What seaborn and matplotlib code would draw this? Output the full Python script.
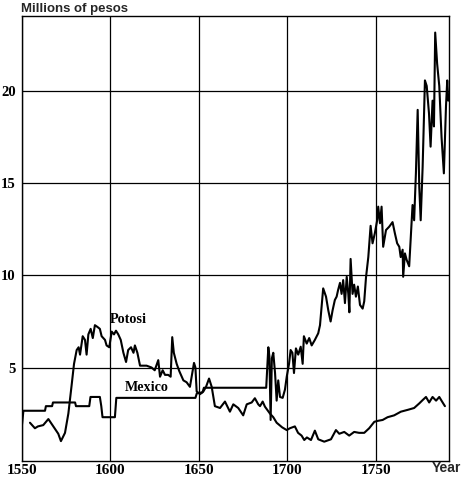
import matplotlib
matplotlib.use("Agg")
import matplotlib.pyplot as plt
import seaborn as sns
import pandas as pd

# ---- data ----
potosi_years = [1554.5, 1557.3, 1559, 1562, 1564.9, 1567.7, 1570.5, 1572, 1574.3, 1576.2,
                1578, 1579.4, 1580.9, 1582, 1582.8, 1584.3, 1585.6, 1586.5, 1587.5, 1588.8,
                1590, 1591.2, 1592.7, 1594, 1595, 1596.9, 1597.8, 1599.3, 1600.7, 1602,
                1603.1, 1604.4, 1605.8, 1607.3, 1608.8, 1610, 1611.6, 1613, 1613.8, 1615.2,
                1616.7, 1620.4, 1623.2, 1625, 1627, 1628, 1629.5, 1630.8, 1632.6, 1634,
                1634.9, 1635.8, 1637.4, 1638.9, 1641.2, 1643, 1644.9, 1646.4, 1647.2, 1648,
                1648.7, 1650.6, 1652.5, 1654, 1655.7, 1657.2, 1659, 1661.9, 1664.7, 1667.5,
                1669.4, 1672.2, 1675, 1677, 1679.8, 1681.6, 1683.5, 1684.5, 1686, 1687.3,
                1690.1, 1692, 1693.9, 1697, 1699.6, 1701.4, 1704.2, 1706, 1708, 1709.5,
                1711, 1713.3, 1715.5, 1717.4, 1720.8, 1724.6, 1727.4, 1729.3, 1732.1, 1734.9,
                1737.7, 1740.5, 1743.4, 1746.2, 1749.1, 1751, 1753.8, 1756.6, 1760.3, 1764.1,
                1768, 1771.6, 1774.5, 1776.4, 1778.3, 1780.1, 1782, 1784, 1785.8, 1787.7, 1789]
potosi_values = [2.0, 1.7, 1.8, 1.87, 2.2, 1.8, 1.4, 1.0, 1.45, 2.5,
                 4.0, 5.2, 5.95, 6.1, 5.7, 6.7, 6.5, 5.7, 6.8, 7.1,
                 6.6, 7.3, 7.2, 7.1, 6.7, 6.5, 6.2, 6.1, 6.95, 6.8,
                 7.0, 6.8, 6.5, 5.8, 5.3, 5.95, 6.1, 5.8, 6.2, 5.8,
                 5.1, 5.1, 5.0, 4.85, 5.4, 4.5, 4.85, 4.6, 4.6, 4.5,
                 6.65, 5.8, 5.2, 4.8, 4.3, 4.2, 3.95, 4.8, 5.25, 5.0,
                 3.7, 3.55, 3.7, 3.95, 4.4, 3.95, 2.9, 2.8, 3.15, 2.6,
                 3.0, 2.8, 2.4, 3.0, 3.1, 3.33, 3.0, 2.9, 3.15, 2.87,
                 2.5, 2.3, 2.0, 1.75, 1.6, 1.7, 1.8, 1.45, 1.3, 1.06,
                 1.2, 1.06, 1.57, 1.1, 0.97, 1.1, 1.6, 1.4, 1.5, 1.3,
                 1.5, 1.45, 1.45, 1.7, 2.05, 2.1, 2.15, 2.3, 2.4, 2.6,
                 2.7, 2.8, 3.05, 3.23, 3.4, 3.1, 3.4, 3.2, 3.4, 3.1, 2.9]

mexico_years = [1550, 1550.8, 1563, 1563.5, 1567, 1567.5, 1580, 1580.5, 1588, 1588.7,
                1594, 1594.8, 1595.5, 1602.5, 1603.3, 1648, 1648.8, 1652, 1652.8, 1688,
                1689.2, 1689.8, 1690.5, 1691.2, 1692, 1693, 1693.9, 1694.8, 1695.8, 1697.3,
                1698.6, 1699.6, 1700.9, 1701.8, 1702.8, 1703.7, 1704.8, 1706.1, 1707.5, 1708.6,
                1709.3, 1710.9, 1712.3, 1713.7, 1715.5, 1717.4, 1718.4, 1719.3, 1720.2, 1721.8,
                1723.1, 1724.4, 1725.5, 1726.8, 1727.8, 1728.6, 1729.7, 1730.6, 1731.5, 1732.5,
                1733.5, 1734.4, 1735, 1735.7, 1736.8, 1737.7, 1738.7, 1739.8, 1741, 1742.5,
                1743.4, 1744.4, 1745.7, 1747, 1748.1, 1749.4, 1750.7, 1751.3, 1752.3, 1753.2,
                1754.1, 1755.7, 1757.5, 1759.4, 1760.7, 1762, 1763.2, 1764, 1765.1, 1765.4,
                1766.4, 1767.4, 1768.8, 1769.6, 1770.7, 1771.6, 1772.6, 1773.6, 1774.5, 1775.3,
                1776.4, 1777.7, 1778.7, 1780, 1780.9, 1782, 1782.8, 1783.5, 1784.6, 1785.8,
                1787.1, 1788.4, 1789.6, 1790.3, 1790.9]
mexico_values = [1.9, 2.65, 2.65, 2.9, 2.9, 3.1, 3.1, 2.9, 2.9, 3.4,
                 3.4, 2.9, 2.3, 2.3, 3.35, 3.35, 3.6, 3.65, 3.9, 3.9,
                 6.1, 5.6, 2.15, 5.5, 5.8, 4.7, 3.2, 4.3, 3.4, 3.35,
                 3.8, 4.5, 5.2, 5.95, 5.8, 4.7, 6.04, 5.7, 6.13, 5.2,
                 6.7, 6.3, 6.6, 6.2, 6.5, 6.86, 7.3, 8.3, 9.3, 8.85,
                 8.1, 7.5, 8.1, 8.67, 8.85, 9.2, 9.6, 9.0, 9.75, 8.5,
                 9.93, 9.0, 8.0, 10.9, 9.0, 9.5, 8.85, 9.4, 8.4, 8.2,
                 8.6, 9.9, 11.0, 12.7, 11.75, 12.3, 13.0, 13.74, 12.84, 13.74,
                 11.56, 12.47, 12.65, 12.9, 12.3, 11.75, 11.56, 11.0, 11.4, 9.93,
                 11.2, 10.84, 10.5, 11.9, 13.83, 13.0, 15.55, 19.0, 14.8, 13.0,
                 15.9, 20.6, 20.3, 18.8, 17.0, 19.5, 18.1, 23.2, 21.5, 20.3,
                 17.5, 15.55, 19.2, 20.6, 19.5]

x_ticks = [1550, 1600, 1650, 1700, 1750]
x_tick_labels = ["1550", "1600", "1650", "1700", "1750"]
y_ticks = [5, 10, 15, 20]
y_tick_labels = ["5", "10", "15", "20"]
series_labels = {"Potosi": (1610.2, 7.6), "Mexico": (1620.4, 3.9)}

df = pd.concat([
    pd.DataFrame({"year": potosi_years, "value": potosi_values, "series": "Potosi"}),
    pd.DataFrame({"year": mexico_years, "value": mexico_values, "series": "Mexico"}),
], ignore_index=True)

sns.set_style("white")
plt.rcParams["font.family"] = ["Liberation Serif", "DejaVu Serif"]

W, H = 463, 480
fig = plt.figure(figsize=(W / 100, H / 100), dpi=100)
ax = fig.add_axes([22 / W, 19 / H, 427 / W, 445 / H])

for s in ["Potosi", "Mexico"]:
    sns.lineplot(data=df[df["series"] == s], x="year", y="value", color="black",
                 linewidth=1.5, sort=False, estimator=None, legend=False, ax=ax)

ax.set_xlim(1550, 1791.3)
ax.set_ylim(-0.08, 24.1)
ax.set_xticks(x_ticks)
ax.set_xticklabels(x_tick_labels, fontsize=11, fontweight="bold")
ax.set_yticks(y_ticks)
ax.set_yticklabels(y_tick_labels, fontsize=10.5, fontweight="bold")
ax.tick_params(axis="both", length=0, colors="black")
ax.tick_params(axis="x", pad=2.5)
ax.tick_params(axis="y", pad=4.5)
ax.set_xlabel("")
ax.set_ylabel("")
ax.grid(True, color="black", linewidth=0.9)
ax.set_axisbelow(True)
for sp in ax.spines.values():
    sp.set_color("black")
    sp.set_linewidth(1.0)
    sp.set_visible(True)

for name, (xv, yv) in series_labels.items():
    ax.text(xv, yv, name, ha="center", va="center", fontsize=10.2,
            fontweight="bold", color="black")

fig.text(21 / W, 1 - 12 / H, "Millions of pesos", ha="left", va="baseline",
         fontsize=9.5, fontweight="bold", family=["Liberation Sans", "DejaVu Sans"])
fig.text(432 / W, 1 - 472 / H, "Year", ha="left", va="baseline",
         fontsize=10, fontweight="bold", family=["Liberation Sans", "DejaVu Sans"])

fig.savefig("out.png", dpi=100, facecolor="white")
